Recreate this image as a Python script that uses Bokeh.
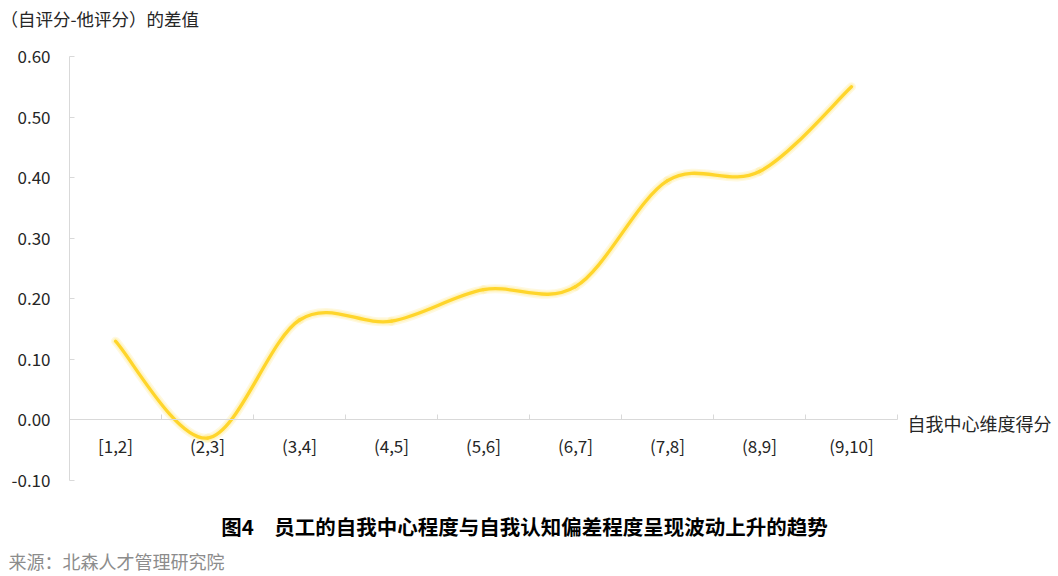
from bokeh.plotting import figure
from bokeh.models import FixedTicker, NumeralTickFormatter, Label
from bokeh.embed import file_html
from bokeh.resources import INLINE

# data
categories = ["[1,2]", "(2,3]", "(3,4]", "(4,5]", "(5,6]", "(6,7]", "(7,8]", "(8,9]", "(9,10]"]
diff = [0.13, -0.03, 0.165, 0.163, 0.215, 0.22, 0.395, 0.41, 0.55]
y_ticks = [-0.1, 0.0, 0.1, 0.2, 0.3, 0.4, 0.5, 0.6]

y_title = "（自评分-他评分）的差值"
x_title = "自我中心维度得分"
caption = "图4\u3000员工的自我中心程度与自我认知偏差程度呈现波动上升的趋势"
source_note = "来源：北森人才管理研究院"

FONT = "Noto Sans CJK SC"
AXIS_GREY = "#d9d9d9"
TEXT = "#262626"
LINE = "#ffd52b"

W, H = 1058, 576
# pixel layout of the plotting area: category axis from x=69 to 897, y from 0.6 (y=56) to -0.1 (y=480)
left_px, right_px, top_px, bottom_px = 69, 897, 56, 480
n_cat = len(categories)
ux = (right_px - left_px) / n_cat
uy = (bottom_px - top_px) / (y_ticks[-1] - y_ticks[0])
x_range = (-left_px / ux, n_cat + (W - right_px) / ux)
y_range = (y_ticks[0] - (H - bottom_px) / uy, y_ticks[-1] + top_px / uy)

# category i sits in the middle of band [i, i+1]
xs = [i + 0.5 for i in range(n_cat)]

p = figure(width=W, height=H, x_range=x_range, y_range=y_range,
           output_backend="svg", toolbar_location=None, min_border=0)
p.outline_line_color = None
p.xgrid.visible = False
p.ygrid.visible = False

# y axis drawn at x = 0
p.yaxis.fixed_location = 0
p.yaxis.bounds = (y_ticks[0], y_ticks[-1])
p.yaxis.ticker = FixedTicker(ticks=y_ticks)
p.yaxis.formatter = NumeralTickFormatter(format="0.00")
p.yaxis.axis_line_color = AXIS_GREY
p.yaxis.major_tick_line_color = AXIS_GREY
p.yaxis.major_tick_in = 5
p.yaxis.major_tick_out = 0
p.yaxis.minor_tick_line_color = None
p.yaxis.major_label_standoff = 19
p.yaxis.major_label_text_font = FONT
p.yaxis.major_label_text_font_size = "17px"
p.yaxis.major_label_text_color = TEXT

# x axis sitting on y = 0, boundary ticks via minor ticks
p.xaxis.fixed_location = 0
p.xaxis.bounds = (0, n_cat)
p.xaxis.ticker = FixedTicker(ticks=xs, minor_ticks=list(range(n_cat + 1)))
p.xaxis.major_label_overrides = {x: c for x, c in zip(xs, categories)}
p.xaxis.axis_line_color = AXIS_GREY
p.xaxis.major_tick_line_color = None
p.xaxis.major_tick_in = 0
p.xaxis.major_tick_out = 0
p.xaxis.minor_tick_line_color = AXIS_GREY
p.xaxis.minor_tick_in = 5
p.xaxis.minor_tick_out = 0
p.xaxis.major_label_standoff = 13
p.xaxis.major_label_text_font = FONT
p.xaxis.major_label_text_font_size = "17px"
p.xaxis.major_label_text_color = TEXT

# smoothed line: cubic bezier segments, control points from neighbouring values
n = len(diff)
px = [xs[0]] + xs + [xs[-1]]
py = [diff[0]] + diff + [diff[-1]]
x0 = xs[:-1]
y0 = diff[:-1]
x1 = xs[1:]
y1 = diff[1:]
cx0 = [px[i + 1] + (px[i + 2] - px[i]) / 6 for i in range(n - 1)]
cy0 = [py[i + 1] + (py[i + 2] - py[i]) / 6 for i in range(n - 1)]
cx1 = [px[i + 2] - (px[i + 3] - px[i + 1]) / 6 for i in range(n - 1)]
cy1 = [py[i + 2] - (py[i + 3] - py[i + 1]) / 6 for i in range(n - 1)]

# soft glow under the line
p.bezier(x0=x0, y0=y0, x1=x1, y1=y1, cx0=cx0, cy0=cy0, cx1=cx1, cy1=cy1,
         line_color="#ffe680", line_width=9, line_alpha=0.25, line_cap="round")
p.bezier(x0=x0, y0=y0, x1=x1, y1=y1, cx0=cx0, cy0=cy0, cx1=cx1, cy1=cy1,
         line_color="#fff0a8", line_width=6, line_alpha=0.5, line_cap="round")
p.bezier(x0=x0, y0=y0, x1=x1, y1=y1, cx0=cx0, cy0=cy0, cx1=cx1, cy1=cy1,
         line_color=LINE, line_width=3.3, line_cap="round")

# texts
p.add_layout(Label(x=0, y=y_ticks[-1], x_offset=-left_px, y_offset=38, text=y_title,
                   text_font=FONT, text_font_size="17.5px", text_color=TEXT,
                   text_align="left", text_baseline="middle"))
p.add_layout(Label(x=n_cat, y=0, x_offset=10, y_offset=-3, text=x_title,
                   text_font=FONT, text_font_size="18px", text_color=TEXT,
                   text_align="left", text_baseline="middle"))
p.add_layout(Label(x=n_cat / 2, y=y_ticks[0], x_offset=41, y_offset=-45, text=caption,
                   text_font=FONT, text_font_size="20.5px", text_font_style="bold",
                   text_color="#000000", text_align="center", text_baseline="middle"))
p.add_layout(Label(x=0, y=y_ticks[0], x_offset=-61, y_offset=-80, text=source_note,
                   text_font=FONT, text_font_size="18px", text_color="#8c8c8c",
                   text_align="left", text_baseline="middle"))

open("out.html", "w").write(file_html(p, INLINE))
